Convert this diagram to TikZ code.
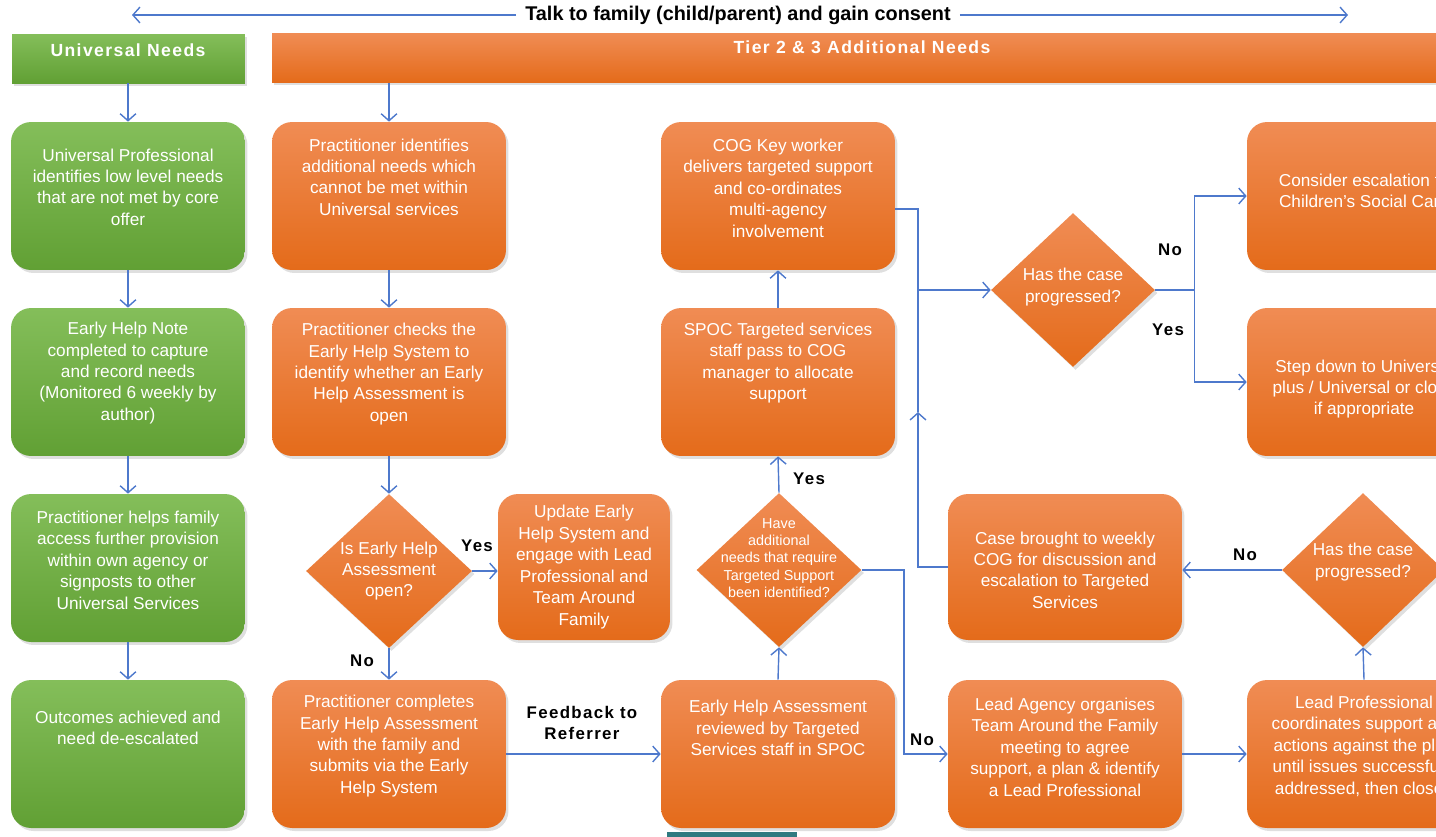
\documentclass[tikz,border=0pt]{standalone}
\usepackage{fontspec}
\setmainfont{Liberation Sans}
\newfontfamily\spacedfont[LetterSpace=8]{Liberation Sans}
\usetikzlibrary{arrows.meta,shapes.geometric,positioning,calc,shadows}
\definecolor{flowblue}{RGB}{78,121,204}
\definecolor{orangetop}{RGB}{240,140,84}
\definecolor{orangemid}{RGB}{243,122,40}
\definecolor{orangebot}{RGB}{228,107,26}
\definecolor{greentop}{RGB}{132,190,90}
\definecolor{greenbot}{RGB}{97,160,52}
\definecolor{barteal}{RGB}{47,122,128}

\begin{document}
\begin{tikzpicture}[x=0.02cm, y=-0.02cm,
    box/.style={rounded corners=0.4cm, minimum width=4.68cm, minimum height=2.96cm, inner sep=0pt,
        drop shadow={shadow xshift=0.05cm, shadow yshift=-0.06cm, opacity=0.25}},
    obox/.style={box, top color=orangetop, middle color=orangemid, bottom color=orangebot},
    gbox/.style={box, top color=greentop, bottom color=greenbot},
    head/.style={minimum height=0.98cm, inner sep=0pt,
        drop shadow={shadow xshift=0.04cm, shadow yshift=-0.05cm, opacity=0.25}},
    dec/.style={diamond, inner sep=0pt, minimum height=3.08cm, top color=orangetop, middle color=orangemid, bottom color=orangebot,
        drop shadow={shadow xshift=0.05cm, shadow yshift=-0.06cm, opacity=0.25}},
    txt/.style={align=center, text=white, inner sep=0pt, font=\fontsize{9.8}{12.2}\selectfont},
    stxt/.style={txt, font=\fontsize{8.2}{9.9}\selectfont},
    headtxt/.style={text=white, inner sep=0pt, font=\spacedfont\bfseries\fontsize{10}{12}\selectfont},
    lbl/.style={align=center, inner sep=0pt, font=\spacedfont\bfseries\fontsize{9.6}{12.2}\selectfont},
    arr/.style={-{Straight Barb[length=4pt,width=9pt]}, flowblue, line width=0.8pt},
    link/.style={flowblue, line width=0.8pt}
]
\useasboundingbox (0,0) rectangle (1436,836);
\clip (0,0) rectangle (1436,836);

% consent banner
\node[fill=white, inner xsep=5pt, font=\bfseries\fontsize{11.3}{13}\selectfont] (talk) at (738,15) {Talk to family (child/parent) and gain consent};
\coordinate (talkl) at (132,15);
\coordinate (talkr) at (1348,15);
\draw[arr] (talk.west) -- (talkl);
\draw[arr] (talk.east) -- (talkr);

% column headers
\node[head, minimum width=4.66cm, top color=greentop, bottom color=greenbot] (unihead) at (128.5,58.5) {};
\node[headtxt] (unitxt) at (128,50) {Universal Needs};
\node[head, minimum width=23.6cm, top color=orangetop, middle color=orangemid, bottom color=orangebot] (tierhead) at (862,58) {};
\node[headtxt] (tiertxt) at (862,47) {Tier 2 \& 3 Additional Needs};

% universal column
\node[gbox] (g1) at (128,196) {};
\node[gbox] (g2) at (128,382) {};
\node[gbox] (g3) at (128,568) {};
\node[gbox] (g4) at (128,754) {};
\node[txt] (tg1) at (128,187) {Universal Professional\\identifies low level needs\\that are not met by core\\offer};
\node[txt] (tg2) at (128,373) {Early Help Note\\completed to capture\\and record needs\\(Monitored 6 weekly by\\author)};
\node[txt] (tg3) at (128,560) {Practitioner helps family\\access further provision\\within own agency or\\signposts to other\\Universal Services};
\node[txt] (tg4) at (128,728) {Outcomes achieved and\\need de-escalated};

% practitioner column
\node[obox] (o1) at (389,196) {};
\node[obox] (o2) at (389,382) {};
\node[dec, minimum width=3.32cm] (isopen) at (389,571) {};
\node[obox] (o3) at (389,754) {};
\node[obox, minimum width=3.44cm, minimum height=2.92cm] (update) at (584,567) {};
\node[txt] (to1) at (389,177) {Practitioner identifies\\additional needs which\\cannot be met within\\Universal services};
\node[txt] (to2) at (389,374) {Practitioner checks the\\Early Help System to\\identify whether an Early\\Help Assessment is\\open};
\node[txt] (tisopen) at (389,571) {Is Early Help\\Assessment\\open?};
\node[txt] (to3) at (389,746) {Practitioner completes\\Early Help Assessment\\with the family and\\submits via the Early\\Help System};
\node[txt] (tupdate) at (584,567) {Update Early\\Help System and\\engage with Lead\\Professional and\\Team Around\\Family};

% targeted services column
\node[obox] (cog) at (778,196) {};
\node[obox] (spoc) at (778,382) {};
\node[dec, minimum width=3.3cm] (needs) at (779,570) {};
\node[obox] (review) at (778,754) {};
\node[txt] (tcog) at (778,188) {COG Key worker\\delivers targeted support\\and co-ordinates\\multi-agency\\involvement};
\node[txt] (tspoc) at (778,363) {SPOC Targeted services\\staff pass to COG\\manager to allocate\\support};
\node[stxt] (tneeds) at (779,558) {Have\\additional\\needs that require\\Targeted Support\\been identified?};
\node[txt] (treview) at (778,728) {Early Help Assessment\\reviewed by Targeted\\Services staff in SPOC};

% review column
\node[dec, minimum width=3.28cm] (prog) at (1073,290) {};
\node[obox, minimum height=2.92cm] (weekly) at (1065,567) {};
\node[obox] (la) at (1065,754) {};
\node[txt] (tprog) at (1073,287) {Has the case\\progressed?};
\node[txt] (tweekly) at (1065,570) {Case brought to weekly\\COG for discussion and\\escalation to Targeted\\Services};
\node[txt] (tla) at (1065,747) {Lead Agency organises\\Team Around the Family\\meeting to agree\\support, a plan \& identify\\a Lead Professional};

% outcome column
\node[obox] (escalate) at (1364,196) {};
\node[obox] (stepdown) at (1364,382) {};
\node[dec, minimum width=3.24cm] (prog2) at (1363,570) {};
\node[obox] (lp) at (1364,754) {};
\node[txt] (tescalate) at (1364,191) {Consider escalation to\\Children’s Social Care};
\node[txt] (tstepdown) at (1364,389) {Step down to Universal\\plus / Universal or close\\if appropriate};
\node[txt] (tprog2) at (1363,562) {Has the case\\progressed?};
\node[txt] (tlp) at (1364,746) {Lead Professional\\coordinates support and\\actions against the plan\\until issues successfully\\addressed, then closed};

\fill[barteal] (667,832) rectangle (797,840);

% connectors
\draw[arr] (unihead.south -| g1.north) -- (g1.north);
\draw[arr] (g1) -- (g2);
\draw[arr] (g2) -- (g3);
\draw[arr] (g3) -- (g4);
\draw[arr] (tierhead.south -| o1.north) -- (o1.north);
\draw[arr] (o1) -- (o2);
\draw[arr] (o2.south) -- (isopen.north);
\draw[arr] (isopen.east) -- (isopen.east -| update.west);
\draw[arr] (isopen.south) -- (o3.north);
\draw[arr] (o3.east) -- (o3.east -| review.west);
\draw[arr] (review.north) -- (needs.south);
\draw[arr] (needs.north) -- (spoc.south);
\draw[arr] (spoc) -- (cog);
\draw[arr] (needs.east) -- ++(42,0) |- (la.west);
\coordinate (jn) at (918,290);
\coordinate (jup) at (918,412);
\draw[arr] ($(cog.east)+(0,13)$) -| (jn) -- (prog.west);
\draw[arr] (weekly.west) -| (jup);
\draw[link] (jup) -- (jn);
\draw[arr] (prog.east) -- ++(39,0) |- (escalate.west);
\draw[arr] (prog.east) -- ++(39,0) |- (stepdown.west);
\draw[arr] (la) -- (lp);
\draw[arr] (lp.north) -- (prog2.south);
\draw[arr] (prog2.west) -- (prog2.west -| weekly.east);

% connector labels
\node[lbl] (yes1) at (477,546) {Yes};
\node[lbl] (no1) at (362,661) {No};
\node[lbl] (fback) at (582,723) {Feedback to\\Referrer};
\node[lbl] (yes2) at (809,479) {Yes};
\node[lbl] (no2) at (922,740) {No};
\node[lbl] (no3) at (1170,250) {No};
\node[lbl] (yes3) at (1168,330) {Yes};
\node[lbl] (no4) at (1245,555) {No};
\end{tikzpicture}
\end{document}
